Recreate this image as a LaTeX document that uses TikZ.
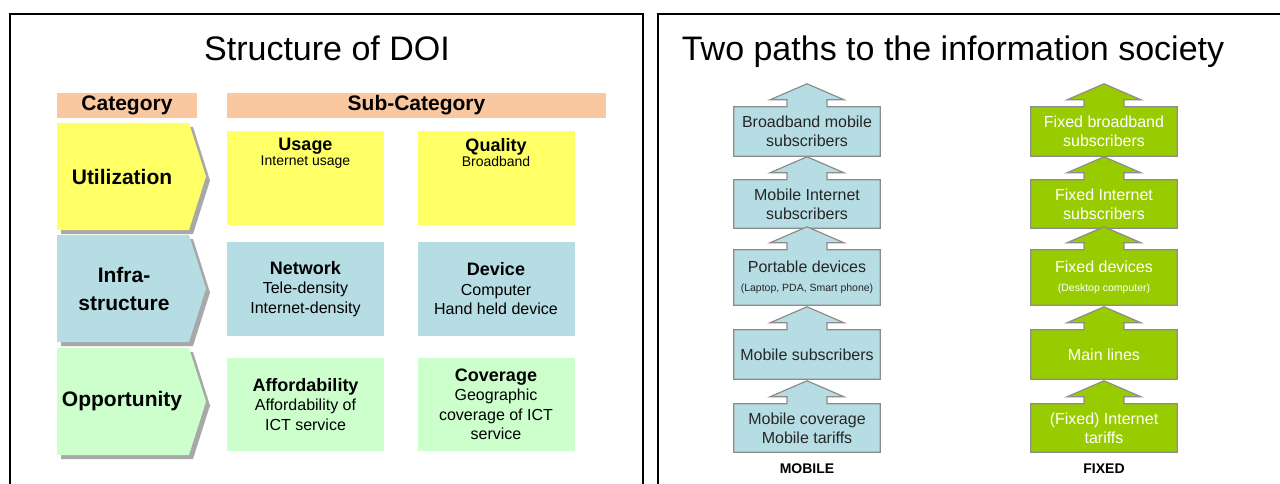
\documentclass[tikz,border=0pt]{standalone}
\usepackage{fontspec}
\setmainfont{Liberation Sans}
\usetikzlibrary{calc}
\pgfdeclarelayer{bg}
\pgfsetlayers{bg,main}
\definecolor{peach}{RGB}{250,200,160}
\definecolor{useyellow}{RGB}{255,255,102}
\definecolor{infrablue}{RGB}{183,221,228}
\definecolor{oppgreen}{RGB}{204,255,204}
\definecolor{fixgreen}{RGB}{153,204,0}
\definecolor{edgegray}{RGB}{140,140,140}
\definecolor{shadowgray}{RGB}{168,168,168}
\tikzset{
    every node/.style={inner sep=0pt, align=center}
}
\tikzset{
    panel/.style={draw, line width=2.6pt},
    headline/.style={font=\fontsize{34}{40}\selectfont, anchor=base},
    headbar/.style={fill=peach, minimum height=25pt, font=\fontsize{21}{24}\selectfont\bfseries},
    catlabel/.style={font=\fontsize{21}{28}\selectfont\bfseries},
    subbox/.style={minimum width=157pt, font=\fontsize{16}{19.5}\selectfont},
    arrowline/.style={draw=edgegray, line width=1.2pt},
    mobbox/.style={minimum width=146pt, font=\fontsize{16}{19}\selectfont, text=black!85},
    fixbox/.style={minimum width=146pt, font=\fontsize{16}{19}\selectfont, text=white},
    pathname/.style={font=\fontsize{14}{16}\selectfont\bfseries}
}
\newcommand{\boxhead}[1]{{\fontsize{18}{20}\selectfont\bfseries #1}}
\newcommand{\smalltext}[1]{{\fontsize{10.5}{13}\selectfont #1}}

\begin{document}
\begin{tikzpicture}[x=1pt, y=-1pt]
        \useasboundingbox (0,0) rectangle (1280,484);
        % left panel
        \draw[panel] (10,14) rectangle (643,500);
        \node[headline] (doititle) at (327,61) {Structure of DOI};
        \node[headbar, minimum width=140pt] (category) at (127,105.5) {Category};
        \node[headbar, minimum width=379pt] (subcategory) at (416.5,105.5) {Sub-Category};
        % chevrons
        \fill[shadowgray] (61,127) -- (193,127) -- (210,180.5) -- (193,234) -- (61,234) -- cycle;
        \fill[useyellow] (57,123) -- (189,123) -- (206,176.5) -- (189,230) -- (57,230) -- cycle;
        \fill[shadowgray] (61,239) -- (193,239) -- (210,292.5) -- (193,346) -- (61,346) -- cycle;
        \fill[infrablue] (57,235) -- (189,235) -- (206,288.5) -- (189,342) -- (57,342) -- cycle;
        \fill[shadowgray] (61,352) -- (193,352) -- (210,405.5) -- (193,459) -- (61,459) -- cycle;
        \fill[oppgreen] (57,348) -- (189,348) -- (206,401.5) -- (189,455) -- (57,455) -- cycle;
        \node[catlabel] (utilization) at (122,177) {Utilization};
        \node[catlabel] (infra) at (124,288.5) {Infra-\\structure};
        \node[catlabel] (opportunity) at (122,401.5) {Opportunity};
        % sub-category boxes
        \node[subbox, fill=useyellow, minimum height=94pt] (usage) at (305.5,178) {};
        \node[subbox, fill=useyellow, minimum height=94pt] (quality) at (496,178) {};
        \node[anchor=north] (usagetxt) at (305.5,138) {\boxhead{Usage}\\{\fontsize{14}{17}\selectfont Internet usage}};
        \node[anchor=north] (qualitytxt) at (496,138) {\boxhead{Quality}\\{\fontsize{14}{17}\selectfont Broadband}};
        \node[subbox, fill=infrablue, minimum height=94pt] (network) at (305.5,289) {\boxhead{Network}\\Tele-density\\Internet-density};
        \node[subbox, fill=infrablue, minimum height=94pt] (device) at (496,289) {\boxhead{Device}\\Computer\\Hand held device};
        \node[subbox, fill=oppgreen, minimum height=93pt] (afford) at (305.5,404.5) {\boxhead{Affordability}\\Affordability of\\ICT service};
        \node[subbox, fill=oppgreen, minimum height=93pt] (coverage) at (496,404.5) {\boxhead{Coverage}\\Geographic\\coverage of ICT\\service};

        % right panel
        \draw[panel] (658,14) rectangle (1300,500);
        \node[headline] (pathtitle) at (953,61) {Two paths to the information society};
        \node[mobbox, minimum height=49pt] (mob1) at (807,131.5) {Broadband mobile\\subscribers};
        \node[mobbox, minimum height=48pt] (mob2) at (807,204) {Mobile Internet\\subscribers};
        \node[mobbox, minimum height=55pt] (mob3) at (807,277.5) {Portable devices\\\smalltext{(Laptop, PDA, Smart phone)}};
        \node[mobbox, minimum height=49pt] (mob4) at (807,354.5) {Mobile subscribers};
        \node[mobbox, minimum height=48pt] (mob5) at (807,428) {Mobile coverage\\Mobile tariffs};
        \node[fixbox, minimum height=49pt] (fix1) at (1104,131.5) {Fixed broadband\\subscribers};
        \node[fixbox, minimum height=48pt] (fix2) at (1104,204) {Fixed Internet\\subscribers};
        \node[fixbox, minimum height=55pt] (fix3) at (1104,277.5) {Fixed devices\\\smalltext{(Desktop computer)}};
        \node[fixbox, minimum height=49pt] (fix4) at (1104,354.5) {Main lines};
        \node[fixbox, minimum height=48pt] (fix5) at (1104,428) {(Fixed) Internet\\tariffs};
        \node[pathname] (mobile) at (807,469) {MOBILE};
        \node[pathname] (fixed) at (1104,469) {FIXED};
        \begin{pgfonlayer}{bg}
                \foreach \b/\c in {mob1/infrablue, mob2/infrablue, mob3/infrablue, mob4/infrablue, mob5/infrablue,
                                   fix1/fixgreen, fix2/fixgreen, fix3/fixgreen, fix4/fixgreen, fix5/fixgreen}
                        \filldraw[arrowline, fill=\c] (\b.south west) -- (\b.north west) -- ($(\b.north)+(-20,0)$)
                                -- ++(0,-7) -- ++(-17,0) -- ($(\b.north)+(0,-23)$) -- ($(\b.north)+(37,-7)$)
                                -- ++(-17,0) -- ++(0,7) -- (\b.north east) -- (\b.south east) -- cycle;
        \end{pgfonlayer}
\end{tikzpicture}
\end{document}
